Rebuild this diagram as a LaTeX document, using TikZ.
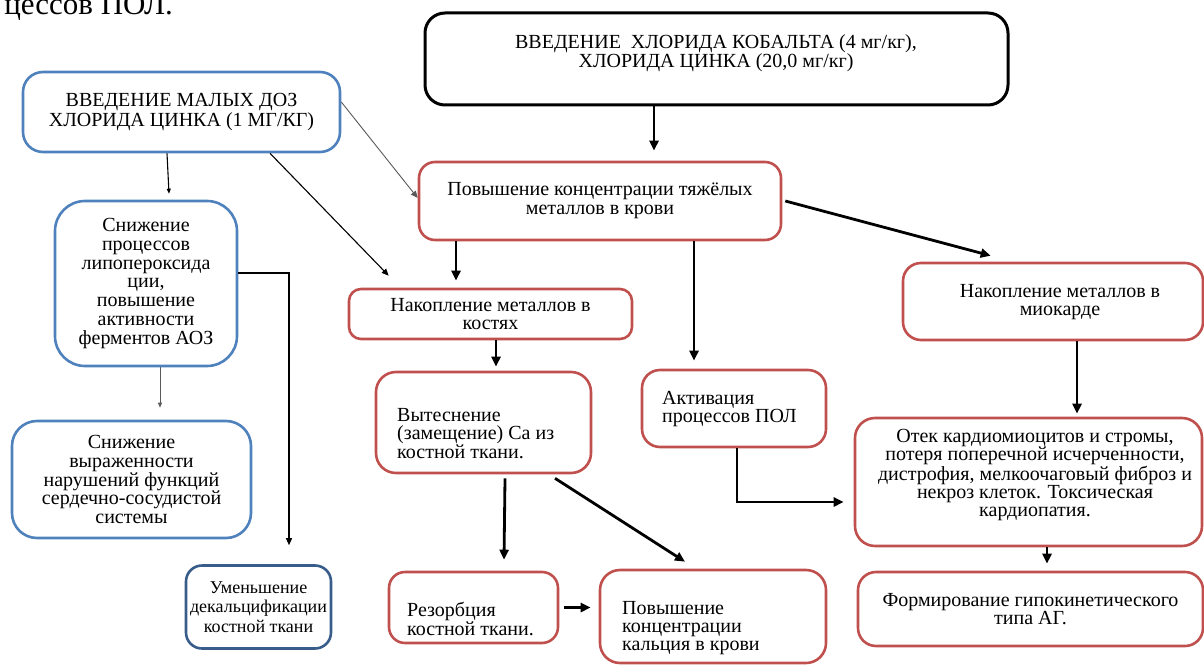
\documentclass[tikz,border=0pt]{standalone}
\usepackage{fontspec}
\setmainfont{Liberation Serif}
\usetikzlibrary{arrows.meta}

\definecolor{boxred}{HTML}{C0504D}
\definecolor{boxblue}{HTML}{4F81BD}
\definecolor{boxnavy}{HTML}{385D8A}
\definecolor{linegray}{HTML}{595959}

\tikzset{
    box/.style={draw, line width=2.6pt, rounded corners=16pt, inner sep=0pt, align=center,
        font=\fontsize{20}{19}\selectfont},
    redbox/.style={box, draw=boxred},
    bluebox/.style={box, draw=boxblue},
    txt/.style={inner sep=0pt, font=\fontsize{20}{18.5}\selectfont},
    fat/.style={line width=2.8pt, -{Triangle[length=10pt,width=9pt]}},
    slim/.style={line width=1.1pt, -{Triangle[length=7pt,width=6pt]}},
}

\begin{document}
\begin{tikzpicture}[x=1pt, y=-1pt]
    \useasboundingbox (0,0) rectangle (1204,666);

    \node[txt, anchor=base east, font=\fontsize{31}{31}\selectfont] (prevline) at (173,15) {цессов ПОЛ.};

    \node[box, draw=black, line width=3pt, rounded corners=20pt, minimum width=583pt, minimum height=92pt] (cobalt) at (716.5,59) {};
    \node[txt, align=center, font=\fontsize{20}{17.3}\selectfont] (cobalt-txt) at (716,53) {ВВЕДЕНИЕ \ ХЛОРИДА КОБАЛЬТА (4 мг/кг),\\ХЛОРИДА ЦИНКА (20,0 мг/кг)};

    \node[bluebox, rounded corners=20pt, minimum width=317pt, minimum height=80pt, font=\fontsize{20}{20}\selectfont] (dose) at (181.5,112) {ВВЕДЕНИЕ МАЛЫХ ДОЗ\\ХЛОРИДА ЦИНКА (1 МГ/КГ)};
    \node[redbox, minimum width=362pt, minimum height=78pt] (metblood) at (600,201) {Повышение концентрации тяжёлых\\металлов в крови};
    \node[bluebox, rounded corners=30pt, minimum width=182pt, minimum height=165pt, font=\fontsize{20}{18.8}\selectfont] (lipo) at (146,283.5) {Снижение\\процессов\\липопероксида\\ции,\\повышение\\активности\\ферментов АОЗ};
    \node[bluebox, rounded corners=25pt, minimum width=239pt, minimum height=117pt, font=\fontsize{20}{18.8}\selectfont] (cardio) at (131.5,479.5) {Снижение\\выраженности\\нарушений функций\\сердечно-сосудистой\\системы};
    \node[box, draw=boxnavy, minimum width=145pt, minimum height=83pt, font=\fontsize{18}{19.5}\selectfont] (decalc) at (258.5,607) {Уменьшение\\декальцификации\\костной ткани};

    \node[redbox, rounded corners=12pt, minimum width=283pt, minimum height=50pt, font=\fontsize{20}{18}\selectfont] (bone) at (490.5,314) {Накопление металлов в\\костях};
    \node[redbox, rounded corners=20pt, minimum width=215pt, minimum height=101pt] (displace) at (483.5,422.5) {};
    \node[txt, anchor=west, align=left] (displace-txt) at (397,433.5) {Вытеснение\\(замещение) Ca из\\костной ткани.};
    \node[redbox, rounded corners=18pt, minimum width=184pt, minimum height=77pt] (lpo) at (734,408.5) {};
    \node[txt, anchor=west, align=left, font=\fontsize{20}{18}\selectfont] (lpo-txt) at (662,409) {Активация\\процессов ПОЛ};

    \node[redbox, rounded corners=18pt, minimum width=300pt, minimum height=77pt] (myo) at (1053,301.5) {};
    \node[txt, align=center, font=\fontsize{20}{18}\selectfont] (myo-txt) at (1060,302) {Накопление металлов в\\миокарде};
    \node[redbox, rounded corners=20pt, minimum width=347pt, minimum height=128pt] (edema) at (1028.5,482) {};
    \node[txt, align=center, font=\fontsize{20}{18}\selectfont] (edema-txt) at (1035,475) {Отек кардиомиоцитов и стромы,\\потеря поперечной исчерченности,\\дистрофия, мелкоочаговый фиброз и\\некроз клеток. Токсическая\\кардиопатия.};
    \node[redbox, rounded corners=18pt, minimum width=345pt, minimum height=74pt, font=\fontsize{20}{18.5}\selectfont] (hypo) at (1030.5,609) {Формирование гипокинетического\\типа АГ.};

    \node[redbox, rounded corners=16pt, minimum width=169pt, minimum height=71pt] (resorb) at (473.5,607.5) {};
    \node[txt, anchor=west, align=left, font=\fontsize{20}{19}\selectfont] (resorb-txt) at (407,618.5) {Резорбция\\костной ткани.};
    \node[redbox, rounded corners=20pt, minimum width=226pt, minimum height=93pt] (calcium) at (713,616.5) {};
    \node[txt, anchor=west, align=left, font=\fontsize{20}{18}\selectfont] (calcium-txt) at (622,628.5) {Повышение\\концентрации\\кальция в крови};

    \draw[fat] ([xshift=-62.5pt]cobalt.south) -- ([xshift=54pt,yshift=10pt]metblood.north);
    \draw[slim, draw=linegray, line width=0.9pt] ([yshift=10pt]dose.east) -- ([yshift=3pt]metblood.west);
    \draw[slim] ([xshift=88.5pt]dose.south) -- ([xshift=41pt,yshift=12pt]bone.north west);
    \draw[slim, -{Triangle[length=5pt,width=4pt]}] ([xshift=-14.5pt]dose.south) -- ([xshift=23pt,yshift=6pt]lipo.north);
    \draw[slim, draw=linegray, line width=0.9pt, -{Triangle[length=5pt,width=4pt]}] ([xshift=14pt]lipo.south) -- ([xshift=28.5pt,yshift=12pt]cardio.north);
    \draw[slim] ([yshift=10.5pt]lipo.east) -| ([xshift=30.5pt,yshift=19pt]decalc.north);

    \draw[fat] ([xshift=-144pt]metblood.south) -- ([xshift=-34.5pt,yshift=7pt]bone.north);
    \draw[fat] ([xshift=94pt]metblood.south) -- ([xshift=-40pt,yshift=8pt]lpo.north);
    \draw[fat] ([xshift=3pt]metblood.east) -- ([xshift=89pt,yshift=6pt]myo.north west);
    \draw[fat] ([xshift=5.5pt]bone.south) -- ([xshift=12.5pt,yshift=4pt]displace.north);
    \draw[fat] ([xshift=24pt]myo.south) -- ([xshift=48.5pt,yshift=3pt]edema.north);
    \draw[fat] ([xshift=3pt]lpo.south) |- ([xshift=-10pt,yshift=-20pt]edema.west);
    \draw[fat] ([xshift=18.5pt]edema.south) -- ([xshift=16.5pt,yshift=7pt]hypo.north);
    \draw[fat] ([xshift=21.5pt,yshift=-4pt]displace.south) -- ([xshift=30.5pt,yshift=11pt]resorb.north);
    \draw[fat] ([xshift=71.5pt,yshift=-4pt]displace.south) -- ([xshift=-28pt,yshift=7pt]calcium.north);
    \draw[fat] ([xshift=5pt]resorb.east) -- ([xshift=-8pt,yshift=9pt]calcium.west);
\end{tikzpicture}
\end{document}
